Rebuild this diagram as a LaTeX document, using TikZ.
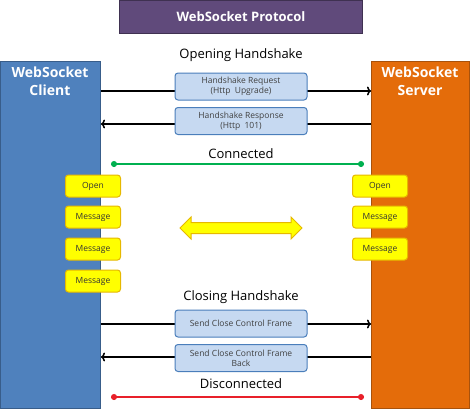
\documentclass[tikz,border=0pt]{standalone}
\usepackage{fontspec}
\setmainfont{Open Sans}
\usetikzlibrary{arrows.meta,shapes.arrows}
\definecolor{titlefill}{HTML}{604A7B}
\definecolor{titleline}{HTML}{3F3151}
\definecolor{clientfill}{HTML}{4F81BD}
\definecolor{clientline}{HTML}{385D8A}
\definecolor{serverfill}{HTML}{E46C0A}
\definecolor{serverline}{HTML}{A8520C}
\definecolor{framefill}{HTML}{C6D9F1}
\definecolor{frameline}{HTML}{4A7EBB}
\definecolor{msgfill}{HTML}{FFFF00}
\definecolor{msgline}{HTML}{E6B800}
\definecolor{okgreen}{HTML}{00B050}
\definecolor{endred}{HTML}{E8202A}
\tikzset{
  msgarrow/.style={line width=1.5pt,-{To[length=4pt,width=9pt]}},
  stateline/.style={line width=1.5pt,{Circle[length=6pt]}-{Circle[length=6pt]}}
}
\begin{document}
\begin{tikzpicture}[x=1pt,y=-1pt]
      \useasboundingbox (0,0) rectangle (472,410);

      \node[fill=titlefill,draw=titleline,line width=1pt,minimum width=243pt,minimum height=33pt,
        text=white,font=\bfseries\fontsize{13}{15}\selectfont] (title) at (241,17) {WebSocket Protocol};

      \begin{scope}[every node/.style={line width=1pt,minimum width=100pt,minimum height=347pt,inner sep=0pt}]
        \node[fill=clientfill,draw=clientline] (client) at (50.5,234.5) {};
        \node[fill=serverfill,draw=serverline,minimum width=98pt] (server) at (420.5,234.5) {};
      \end{scope}

      \begin{scope}[every node/.style={text=white,align=center,font=\bfseries\fontsize{14}{18}\selectfont}]
        \node (clientlbl) at (50,81) {WebSocket\\Client};
        \node (serverlbl) at (420,81) {WebSocket\\Server};
      \end{scope}

      \begin{scope}[every node/.style={font=\fontsize{13}{15}\selectfont}]
        \node (opening)  at (241,55)  {Opening Handshake};
        \node (conn)     at (241,154) {Connected};
        \node (closing)  at (241,297) {Closing Handshake};
        \node (disconn)  at (241,384) {Disconnected};
      \end{scope}

      \coordinate (reqy)  at (0,91);
      \coordinate (respy) at (0,124);
      \coordinate (clsy)  at (0,324);
      \coordinate (backy) at (0,357);
      \draw[msgarrow] (client.east |- reqy)  -- (server.west |- reqy);
      \draw[msgarrow] (server.west |- respy) -- (client.east |- respy);
      \draw[msgarrow] (client.east |- clsy)  -- (server.west |- clsy);
      \draw[msgarrow] (server.west |- backy) -- (client.east |- backy);

      \begin{scope}[every node/.style={fill=framefill,draw=frameline,line width=1pt,rounded corners=3pt,
          minimum width=132pt,minimum height=27pt,inner sep=1pt,align=center,text=black!75,
          font=\fontsize{8.5}{10}\selectfont}]
        \node (req)  at (241,86.5)  {Handshake Request\\(Http\enspace Upgrade)};
        \node (resp) at (241,121)   {Handshake Response\\(Http\enspace 101)};
        \node (cls)  at (241,323.5) {Send Close Control Frame};
        \node (back) at (241,358)   {Send Close Control Frame\\Back};
      \end{scope}

      \coordinate (c1) at (111,164);
      \coordinate (c2) at (364,164);
      \coordinate (d1) at (111,397);
      \coordinate (d2) at (364,397);
      \draw[stateline,okgreen] (c1) -- (c2);
      \draw[stateline,endred] (d1) -- (d2);

      \begin{scope}[every node/.style={fill=msgfill,draw=msgline,line width=1pt,rounded corners=3pt,
          minimum width=55pt,minimum height=22pt,inner sep=0pt,text=black!80,
          font=\fontsize{8.5}{10}\selectfont}]
        \node (l1) at (93,186)  {Open};
        \node (l2) at (93,217)  {Message};
        \node (l3) at (93,249)  {Message};
        \node (l4) at (93,281)  {Message};
        \node (r1) at (380,186) {Open};
        \node (r2) at (380,217) {Message};
        \node (r3) at (380,249) {Message};
      \end{scope}

      \node[double arrow,fill=msgfill,draw=msgline,line width=1pt,minimum width=0pt,minimum height=122pt,
        double arrow head extend=5.5pt,inner xsep=0pt,inner ysep=5pt] (flow) at (241,228) {};

    \end{tikzpicture}
\end{document}
